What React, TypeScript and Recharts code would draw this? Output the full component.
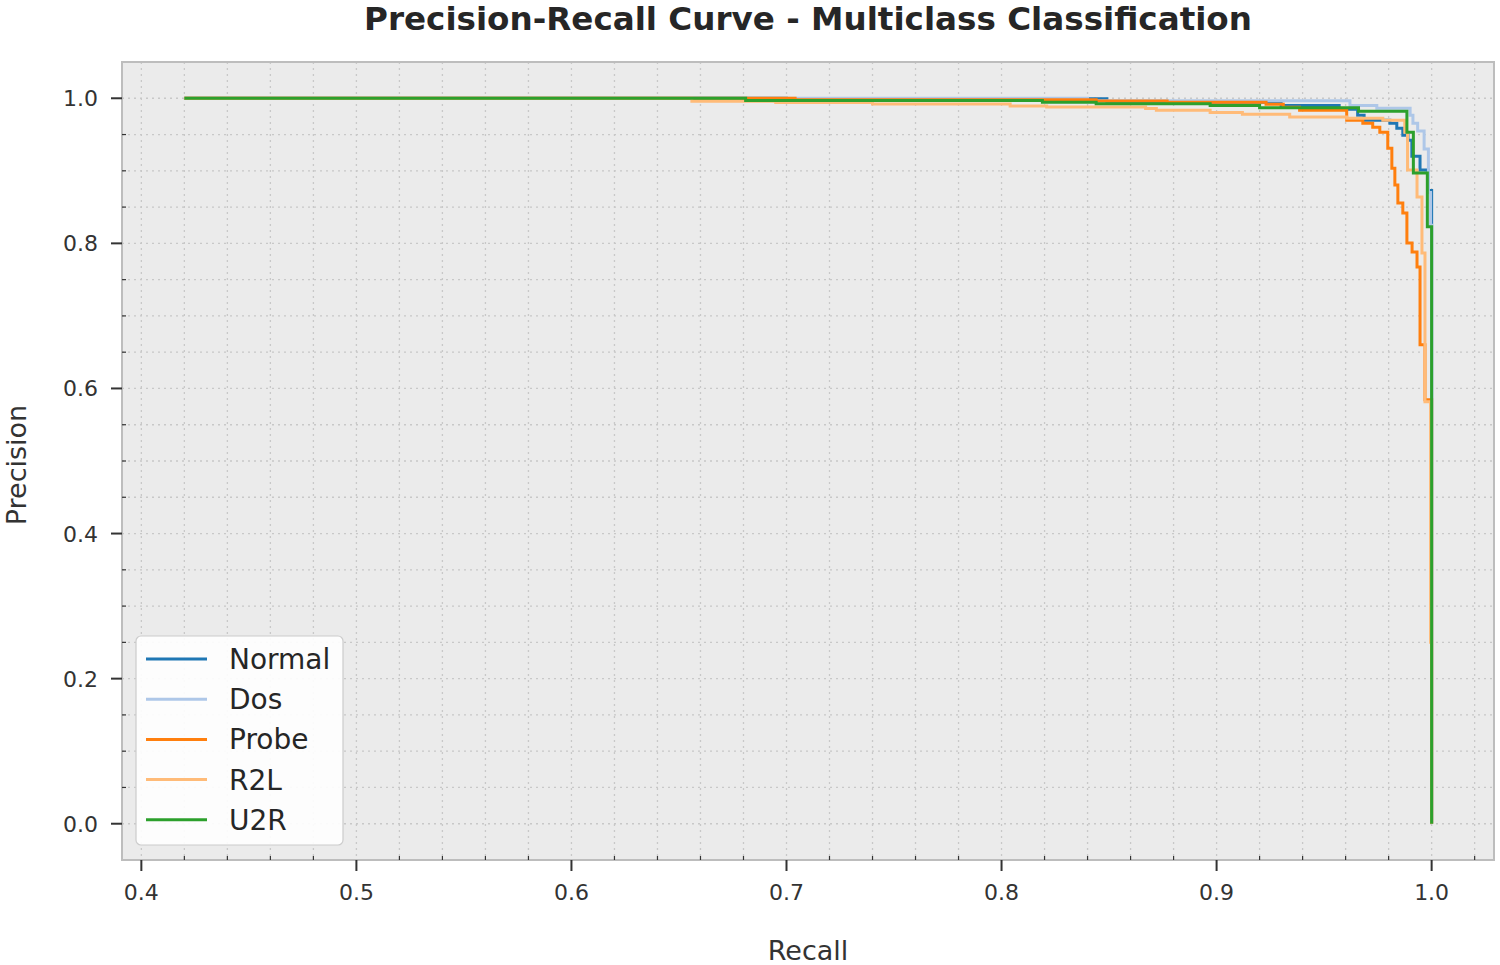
import { LineChart, Line, XAxis, YAxis, CartesianGrid, ReferenceArea } from "recharts";

const classNames = ["Normal", "Dos", "Probe", "R2L", "U2R"];
const classColors = ["#1f77b4", "#aec7e8", "#ff7f0e", "#ffbb78", "#2ca02c"];

// recall / precision pairs (steps happen at each recall value)
const normalRecall = [0.42, 0.7, 0.799, 0.849, 0.93, 0.957, 0.9656, 0.9686, 0.9806, 0.9838, 0.9866, 0.989, 0.9908, 0.9946, 0.9983, 1.0];
const normalPrecision = [1.0, 0.997, 0.9995, 0.9945, 0.99, 0.985, 0.9766, 0.9697, 0.9656, 0.9587, 0.949, 0.942, 0.92, 0.901, 0.873, 0.0];

const dosRecall = [0.42, 0.84, 0.962, 0.9745, 0.99, 0.9913, 0.9935, 0.9965, 0.9985, 0.9995, 1.0];
const dosPrecision = [1.0, 0.9965, 0.99, 0.9862, 0.9766, 0.9656, 0.955, 0.93, 0.87, 0.825, 0.0];

const probeRecall = [0.42, 0.704, 0.844, 0.877, 0.923, 0.931, 0.9386, 0.9605, 0.968, 0.9726, 0.9759, 0.9796, 0.9815, 0.9829, 0.9843, 0.9866, 0.9885, 0.9909, 0.9932, 0.9946, 0.9969, 1.0];
const probePrecision = [1.0, 0.998, 0.9963, 0.9945, 0.9917, 0.9876, 0.9835, 0.9697, 0.9656, 0.9601, 0.9532, 0.9312, 0.9037, 0.8803, 0.8556, 0.8418, 0.8006, 0.7882, 0.7675, 0.6602, 0.5846, 0.0];

const r2lRecall = [0.42, 0.656, 0.695, 0.74, 0.804, 0.821, 0.867, 0.872, 0.897, 0.912, 0.934, 0.9605, 0.9773, 0.9875, 0.9888, 0.9932, 0.9955, 0.9969, 0.9995, 1.0];
const r2lPrecision = [1.0, 0.9959, 0.9941, 0.9922, 0.9894, 0.988, 0.9859, 0.9835, 0.9803, 0.978, 0.9743, 0.9725, 0.9697, 0.9532, 0.901, 0.8638, 0.7868, 0.5818, 0.25, 0.0];

const u2rRecall = [0.42, 0.681, 0.819, 0.844, 0.897, 0.92, 0.966, 0.9885, 0.9915, 0.998, 1.0];
const u2rPrecision = [1.0, 0.997, 0.9945, 0.9925, 0.99, 0.987, 0.982, 0.953, 0.897, 0.823, 0.0];

const xMajorTicks = [0.4, 0.5, 0.6, 0.7, 0.8, 0.9, 1.0];
const yMajorTicks = [0.0, 0.2, 0.4, 0.6, 0.8, 1.0];
const xDomain: [number, number] = [0.391, 1.029];
const yDomain: [number, number] = [-0.05, 1.05];

// minor ticks: 0.02 on x, 0.05 on y
const xTicks = Array.from({ length: 32 }, (_, i) => Math.round((0.4 + i * 0.02) * 100) / 100);
const yTicks = Array.from({ length: 21 }, (_, i) => Math.round(i * 5) / 100);

const isMajor = (v: number, majors: number[]) => majors.some((m) => Math.abs(m - v) < 1e-6);

const toPoints = (r: number[], p: number[]) => r.map((v, i) => ({ r: v, p: p[i] }));

const series = [
  toPoints(normalRecall, normalPrecision),
  toPoints(dosRecall, dosPrecision),
  toPoints(probeRecall, probePrecision),
  toPoints(r2lRecall, r2lPrecision),
  toPoints(u2rRecall, u2rPrecision),
];

const FONT = "DejaVu Sans";

const XTick = (props: any) => {
  const { x, y, payload } = props;
  const v = payload.value;
  if (!isMajor(v, xMajorTicks)) {
    return <line x1={x} x2={x} y1={y} y2={y - 4} stroke="#333" strokeWidth={1.2} />;
  }
  return (
    <g>
      <line x1={x} x2={x} y1={y} y2={y + 11} stroke="#333" strokeWidth={2} />
      <text x={x} y={y + 40} textAnchor="middle" fontSize={22} fill="#333" fontFamily={FONT}>
        {v.toFixed(1)}
      </text>
    </g>
  );
};

const YTick = (props: any) => {
  const { x, y, payload } = props;
  const v = payload.value;
  if (!isMajor(v, yMajorTicks)) {
    return <line x1={x} x2={x + 4} y1={y} y2={y} stroke="#333" strokeWidth={1.2} />;
  }
  return (
    <g>
      <line x1={x - 11} x2={x} y1={y} y2={y} stroke="#333" strokeWidth={2} />
      <text x={x - 24} y={y + 8} textAnchor="end" fontSize={22} fill="#333" fontFamily={FONT}>
        {v.toFixed(1)}
      </text>
    </g>
  );
};

export default function App() {
  return (
    <div style={{ position: "absolute", left: 0, top: 0, width: 1500, height: 965, background: "#fff", fontFamily: FONT }}>
      <LineChart width={1500} height={965} margin={{ top: 62, right: 6, left: 0, bottom: 0 }}>
        <CartesianGrid stroke="#c8c8c8" strokeDasharray="2 4" strokeWidth={1.3} fill="#ebebeb" />
        <XAxis
          type="number"
          dataKey="r"
          domain={xDomain}
          ticks={xTicks}
          interval={0}
          allowDataOverflow
          height={105}
          tickSize={0}
          tickMargin={0}
          tickLine={false}
          axisLine={false}
          tick={<XTick />}
        />
        <YAxis
          type="number"
          dataKey="p"
          domain={yDomain}
          ticks={yTicks}
          interval={0}
          allowDataOverflow
          width={122}
          tickSize={0}
          tickMargin={0}
          tickLine={false}
          axisLine={false}
          tick={<YTick />}
        />
        {series.map((d, i) => (
          <Line
            key={classNames[i]}
            data={d}
            dataKey="p"
            type="stepAfter"
            stroke={classColors[i]}
            strokeWidth={3}
            dot={false}
            activeDot={false}
            isAnimationActive={false}
          />
        ))}
        <ReferenceArea x1={xDomain[0]} x2={xDomain[1]} y1={yDomain[0]} y2={yDomain[1]} fill="none" stroke="#bdbdbd" strokeWidth={2} />
      </LineChart>
      <svg width={1500} height={965} style={{ position: "absolute", left: 0, top: 0, pointerEvents: "none" }}>
        <text x={808} y={30} textAnchor="middle" fontSize={32.6} fontWeight="bold" fill="#262626" fontFamily={FONT}>
          Precision-Recall Curve - Multiclass Classification
        </text>
        <text x={808} y={960} textAnchor="middle" fontSize={27} fill="#333" fontFamily={FONT}>
          Recall
        </text>
        <text x={26} y={465} textAnchor="middle" fontSize={27} fill="#333" fontFamily={FONT} transform="rotate(-90 26 465)">
          Precision
        </text>
        <rect x={136} y={636} width={207} height={209} rx={5} fill="#fff" fillOpacity={0.9} stroke="#cccccc" strokeWidth={1.2} />
        {classNames.map((name, i) => (
          <g key={name}>
            <line x1={146} x2={207} y1={659 + i * 40.2} y2={659 + i * 40.2} stroke={classColors[i]} strokeWidth={3} />
            <text x={229} y={659 + i * 40.2 + 10} fontSize={28} fill="#262626" fontFamily={FONT}>
              {name}
            </text>
          </g>
        ))}
      </svg>
    </div>
  );
}
